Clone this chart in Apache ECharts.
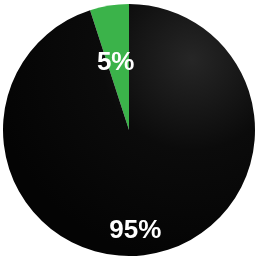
<!DOCTYPE html>
<html>
<head>
<meta charset="utf-8">
<script src="https://cdn.jsdelivr.net/npm/echarts@6/dist/echarts.min.js"></script>
<style>
  html, body { margin: 0; padding: 0; background: #fff; }
  #chart { width: 265px; height: 261px; }
</style>
</head>
<body>
<div id="chart"></div>
<script>
  // values
  let names = ['green', 'black']
  let values = [5, 95]
  let labels = ['5%', '95%']
  let colors = ['#3bb34a', '#060606']

  let chart = echarts.init(document.getElementById('chart'))
  // label nudges, the inside position sits at half radius
  let nudge = [[-3, -2], [-4, 36]]

  let data = names.map((n, i) => {
    let color = colors[i]
    if (i === 1) {
      color = new echarts.graphic.RadialGradient(0.75, 0.22, 0.8, [
        { offset: 0, color: '#262626' },
        { offset: 0.45, color: '#0b0b0b' },
        { offset: 1, color: '#040404' }
      ])
    }
    return { name: n, value: values[i], itemStyle: { color: color } }
  })

  let option = {
    animation: false,
    series: [{
      type: 'pie',
      center: [129, 130],
      radius: 126,
      startAngle: 90,
      clockwise: false,
      data: data,
      label: {
        show: true,
        position: 'inside',
        formatter: p => labels[p.dataIndex],
        color: '#fff',
        fontFamily: 'Liberation Sans',
        fontWeight: 'bold',
        fontSize: 26
      },
      labelLine: { show: false },
      labelLayout: p => ({ dx: nudge[p.dataIndex][0], dy: nudge[p.dataIndex][1] }),
      itemStyle: { borderWidth: 0 }
    }]
  }
  chart.setOption(option)
</script>
</body>
</html>
